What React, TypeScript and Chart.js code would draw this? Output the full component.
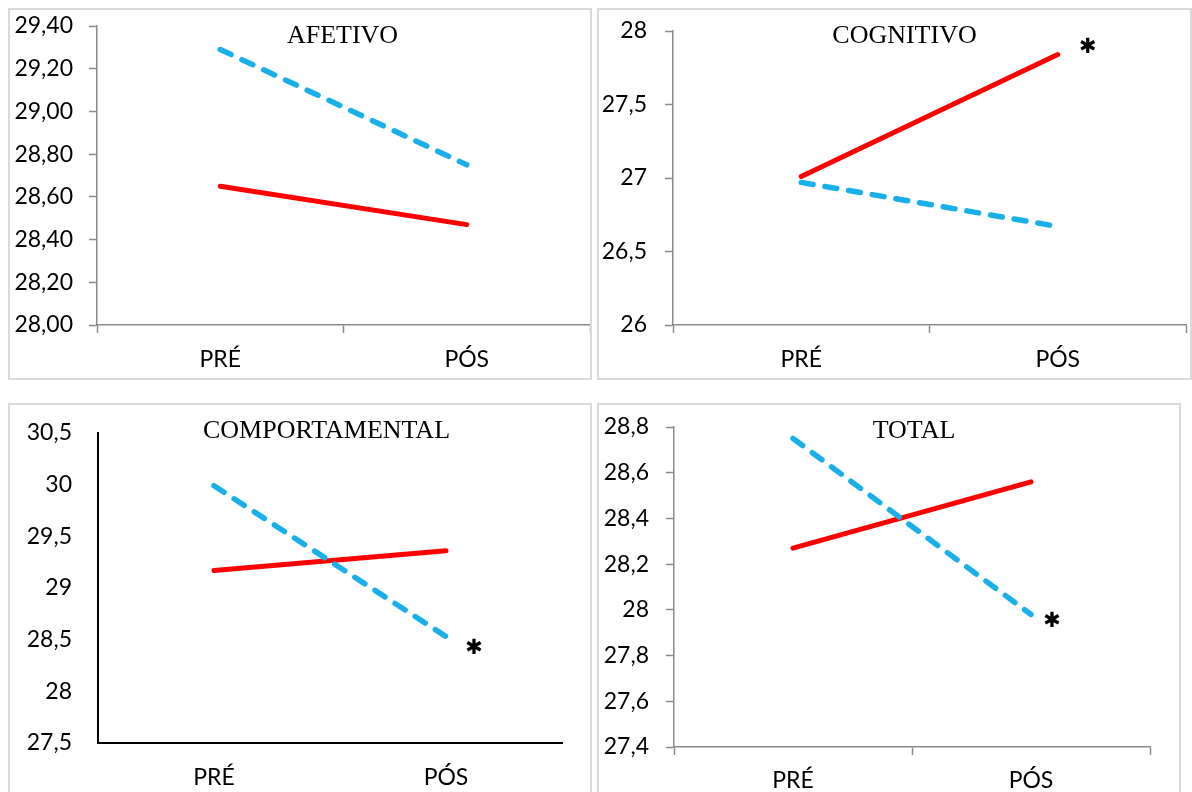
import React, { useEffect, useRef } from 'react';
import { Chart, registerables } from 'chart.js';

Chart.register(...registerables);

// ---------- DATA ----------
const categories = ['PRÉ', 'PÓS'];

// red solid series / blue dashed series
const afetivoVermelho = [28.65, 28.47];
const afetivoAzul = [29.29, 28.75];

const cognitivoVermelho = [27.01, 27.84];
const cognitivoAzul = [26.97, 26.67];

const comportamentalVermelho = [29.17, 29.36];
const comportamentalAzul = [29.99, 28.53];

const totalVermelho = [28.27, 28.56];
const totalAzul = [28.75, 27.98];

// y tick values and labels
const afetivoTickValues = [28.0, 28.2, 28.4, 28.6, 28.8, 29.0, 29.2, 29.4];
const afetivoTickLabels = ['28,00', '28,20', '28,40', '28,60', '28,80', '29,00', '29,20', '29,40'];

const cognitivoTickValues = [26, 26.5, 27, 27.5, 28];
const cognitivoTickLabels = ['26', '26,5', '27', '27,5', '28'];

const comportamentalTickValues = [27.5, 28, 28.5, 29, 29.5, 30, 30.5];
const comportamentalTickLabels = ['27,5', '28', '28,5', '29', '29,5', '30', '30,5'];

const totalTickValues = [27.4, 27.6, 27.8, 28.0, 28.2, 28.4, 28.6, 28.8];
const totalTickLabels = ['27,4', '27,6', '27,8', '28', '28,2', '28,4', '28,6', '28,8'];

// significance markers (value on y axis near the PÓS point), null = none
const cognitivoAsterisco = 27.89;
const comportamentalAsterisco = 28.41;
const totalAsterisco = 27.95;

// ---------- STYLE ----------
const RED = '#ff0000';
const BLUE = '#19b0ea';
const GRAY_AXIS = '#8a8a8a';
const PANEL_BORDER = '#d9d9d9';
const TICK_FONT = { family: 'Lato', size: 23 };

type PanelCfg = {
  title: string;
  red: number[];
  blue: number[];
  tickValues: number[];
  tickLabels: string[];
  star: number | null;
  starDx: number;
  titleDx: number;
  box: { left: number; top: number; width: number; height: number };
  yW: number;
  xH: number;
  padTop: number;
  padRight: number;
  yPad: number;
  xPad: number;
  ticks: boolean;
  axisColor: string;
  axisWidth: number;
};

const panels: PanelCfg[] = [
  {
    title: 'AFETIVO', red: afetivoVermelho, blue: afetivoAzul,
    tickValues: afetivoTickValues, tickLabels: afetivoTickLabels,
    star: null, starDx: 0, titleDx: -1,
    box: { left: 8, top: 8, width: 584, height: 372 },
    yW: 87, xH: 53, padTop: 16, padRight: 0, yPad: 16, xPad: 13,
    ticks: true, axisColor: GRAY_AXIS, axisWidth: 1.5,
  },
  {
    title: 'COGNITIVO', red: cognitivoVermelho, blue: cognitivoAzul,
    tickValues: cognitivoTickValues, tickLabels: cognitivoTickLabels,
    star: cognitivoAsterisco, starDx: 30, titleDx: -25,
    box: { left: 597, top: 8, width: 595, height: 372 },
    yW: 74, xH: 53, padTop: 21, padRight: 4, yPad: 18, xPad: 13,
    ticks: true, axisColor: GRAY_AXIS, axisWidth: 1.5,
  },
  {
    title: 'COMPORTAMENTAL', red: comportamentalVermelho, blue: comportamentalAzul,
    tickValues: comportamentalTickValues, tickLabels: comportamentalTickLabels,
    star: comportamentalAsterisco, starDx: 28, titleDx: -3.5,
    box: { left: 8, top: 403, width: 584, height: 400 },
    yW: 88, xH: 49, padTop: 28, padRight: 28, yPad: 26, xPad: 21,
    ticks: false, axisColor: '#000000', axisWidth: 2,
  },
  {
    title: 'TOTAL', red: totalVermelho, blue: totalAzul,
    tickValues: totalTickValues, tickLabels: totalTickLabels,
    star: totalAsterisco, starDx: 21, titleDx: 2,
    box: { left: 597, top: 403, width: 584, height: 400 },
    yW: 75, xH: 45, padTop: 22, padRight: 29, yPad: 17, xPad: 12,
    ticks: true, axisColor: GRAY_AXIS, axisWidth: 1.5,
  },
];

const decoPlugin = {
  id: 'deco',
  afterDatasetsDraw(chart: any, _args: any, opts: any) {
    const { ctx, chartArea } = chart;
    ctx.save();
    ctx.fillStyle = '#000';
    ctx.font = '26px "Liberation Serif"';
    ctx.textAlign = 'center';
    ctx.textBaseline = 'alphabetic';
    ctx.fillText(opts.title, (chartArea.left + chartArea.right) / 2 + opts.titleDx, 33);
    if (opts.star !== null && opts.star !== undefined) {
      const x = chart.scales.x.getPixelForValue(1) + opts.starDx;
      const y = chart.scales.y.getPixelForValue(opts.star);
      ctx.font = '21px "DejaVu Sans"';
      ctx.textBaseline = 'middle';
      ctx.fillText('\u2731', x, y);
    }
    ctx.restore();
  },
};

const zeroPadding = (s: any) => {
  s.paddingTop = 0;
  s.paddingBottom = 0;
  s.paddingLeft = 0;
  s.paddingRight = 0;
};

function Panel({ cfg }: { cfg: PanelCfg }) {
  const ref = useRef<HTMLCanvasElement | null>(null);
  const cw = cfg.box.width - 4;
  const ch = Math.min(cfg.box.height - 4, 792 - cfg.box.top - 2);

  useEffect(() => {
    if (!ref.current) return;
    const chart = new Chart(ref.current, {
      type: 'line',
      data: {
        labels: categories,
        datasets: [
          {
            data: cfg.blue,
            borderColor: BLUE,
            borderWidth: 5.5,
            borderDash: [12, 12],
            borderCapStyle: 'round',
            pointRadius: 0,
            tension: 0,
            fill: false,
          },
          {
            data: cfg.red,
            borderColor: RED,
            borderWidth: 5,
            borderCapStyle: 'round',
            pointRadius: 0,
            tension: 0,
            fill: false,
          },
        ],
      },
      options: {
        animation: false,
        responsive: false,
        devicePixelRatio: 1,
        layout: { padding: { top: cfg.padTop, right: cfg.padRight, bottom: 0, left: 0 } },
        plugins: {
          legend: { display: false },
          tooltip: { enabled: false },
          title: { display: false },
          deco: { title: cfg.title, titleDx: cfg.titleDx, star: cfg.star, starDx: cfg.starDx },
        } as any,
        scales: {
          x: {
            type: 'category',
            offset: true,
            afterFit: (s: any) => { s.height = cfg.xH; zeroPadding(s); },
            ticks: { font: TICK_FONT, color: '#000', padding: cfg.xPad, maxRotation: 0 },
            grid: {
              display: true, drawOnChartArea: false, drawTicks: cfg.ticks, tickLength: 8,
              tickColor: cfg.axisColor, tickWidth: cfg.axisWidth, offset: true,
            },
            border: { display: true, color: cfg.axisColor, width: cfg.axisWidth },
          },
          y: {
            type: 'linear',
            min: cfg.tickValues[0],
            max: cfg.tickValues[cfg.tickValues.length - 1],
            afterBuildTicks: (s: any) => { s.ticks = cfg.tickValues.map((v) => ({ value: v })); },
            afterFit: (s: any) => { s.width = cfg.yW; zeroPadding(s); },
            ticks: {
              font: TICK_FONT, color: '#000', padding: cfg.yPad,
              callback: (_v: any, i: number) => cfg.tickLabels[i],
            },
            grid: {
              display: true, drawOnChartArea: false, drawTicks: cfg.ticks, tickLength: 8,
              tickColor: cfg.axisColor, tickWidth: cfg.axisWidth,
            },
            border: { display: true, color: cfg.axisColor, width: cfg.axisWidth },
          },
        },
      },
      plugins: [decoPlugin as any],
    } as any);
    return () => chart.destroy();
  }, [cfg]);

  return (
    <div
      style={{
        position: 'absolute',
        left: cfg.box.left,
        top: cfg.box.top,
        width: cfg.box.width,
        height: cfg.box.height,
        border: `2px solid ${PANEL_BORDER}`,
        boxSizing: 'border-box',
        background: '#fff',
      }}
    >
      <canvas ref={ref} width={cw} height={ch} style={{ display: 'block', width: cw, height: ch }} />
    </div>
  );
}

export default function App() {
  return (
    <div
      style={{
        position: 'fixed',
        left: 0,
        top: 0,
        width: 1192,
        height: 792,
        overflow: 'hidden',
        background: '#fff',
      }}
    >
      {panels.map((p) => (
        <Panel key={p.title} cfg={p} />
      ))}
    </div>
  );
}
